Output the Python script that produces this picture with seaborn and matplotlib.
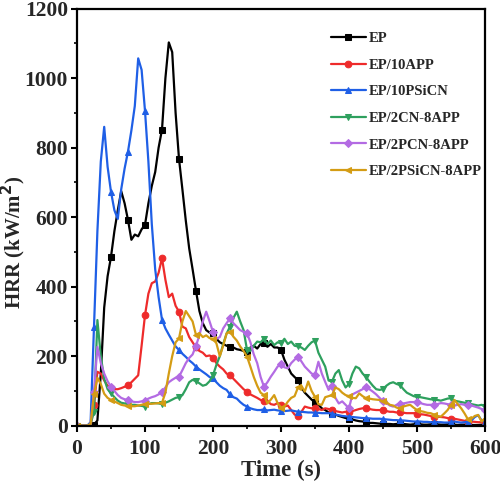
import numpy as np
import pandas as pd
import matplotlib
matplotlib.use("Agg")
import matplotlib.pyplot as plt
from matplotlib.ticker import MultipleLocator
import seaborn as sns

# ── DATA (HRR, kW/m2, read every 5 s) ───────────────────────
time_s = list(range(0, 601, 5))

ep = [0, 0, 0, 0, 0, 3, 15, 150, 340, 430, 486, 560, 620, 675, 640, 592, 535, 550, 545, 565,
      578, 640, 690, 730, 800, 852, 1000, 1103, 1075, 900, 768, 680, 590, 510, 450, 388, 330, 295, 275, 268,
      266, 250, 240, 235, 230, 227, 225, 220, 218, 215, 213, 225, 230, 222, 235, 238, 227, 235, 225, 225,
      218, 190, 170, 150, 140, 131, 110, 95, 85, 75, 68, 60, 50, 45, 38, 35, 32, 28, 25, 22,
      20, 18, 15, 13, 12, 10, 8, 8, 7, 6, 6, 5, 5, 4, 5, 6, 5, 4, 3, 4,
      5, 4, 3, 3, 4, 5, 4, 3, 3, 4, 3, 3, 2, 3, 3, 2, 2, 2, 2, 3, 2]

app10 = [0, 0, 0, 0, 0, 60, 155, 150, 130, 115, 108, 105, 105, 108, 112, 117, 125, 135, 145, 230,
         318, 380, 410, 415, 440, 482, 420, 370, 380, 345, 328, 285, 280, 255, 240, 225, 215, 210, 200, 202,
         196, 180, 170, 162, 150, 145, 135, 125, 115, 105, 98, 90, 85, 80, 74, 70, 72, 62, 60, 65,
         60, 55, 58, 45, 32, 28, 40, 55, 52, 50, 50, 48, 45, 50, 48, 45, 42, 40, 38, 40,
         40, 42, 45, 48, 50, 51, 48, 46, 45, 45, 44, 42, 40, 40, 38, 38, 37, 36, 36, 36,
         35, 33, 32, 30, 28, 26, 26, 25, 24, 22, 20, 20, 18, 16, 14, 12, 12, 11, 10, 10, 10]

psicn10 = [0, 0, 0, 0, 10, 285, 560, 760, 860, 745, 673, 620, 595, 680, 740, 789, 850, 920, 1057, 1024,
           906, 760, 580, 450, 370, 305, 280, 262, 245, 228, 218, 207, 198, 188, 180, 170, 162, 155, 148, 140,
           136, 125, 115, 108, 103, 90, 82, 78, 68, 60, 55, 50, 47, 45, 45, 47, 44, 45, 46, 44,
           43, 42, 43, 44, 42, 40, 40, 39, 38, 38, 37, 37, 36, 36, 36, 35, 32, 30, 28, 27,
           26, 25, 24, 23, 22, 22, 21, 20, 20, 20, 19, 18, 17, 16, 16, 15, 15, 14, 13, 12,
           12, 12, 11, 11, 10, 10, 10, 10, 9, 9, 10, 12, 10, 9, 10, 12, 15, 25, 30, 15, 12]

cn2_app8 = [0, 0, 0, 0, 5, 40, 304, 200, 135, 105, 93, 82, 72, 66, 64, 62, 60, 60, 58, 57,
            55, 62, 65, 65, 64, 62, 66, 70, 75, 80, 82, 88, 105, 125, 132, 128, 122, 115, 118, 128,
            145, 175, 200, 235, 265, 285, 310, 328, 300, 275, 218, 215, 230, 242, 240, 250, 235, 245, 232, 240,
            237, 250, 235, 242, 230, 228, 225, 218, 230, 240, 245, 210, 190, 170, 130, 127, 150, 160, 130, 110,
            120, 150, 170, 165, 150, 140, 127, 115, 105, 103, 105, 115, 122, 125, 120, 117, 105, 95, 90, 85,
            83, 82, 80, 78, 76, 75, 74, 72, 75, 78, 79, 72, 70, 68, 66, 64, 62, 60, 58, 60, 55]

pcn2_app8 = [0, 0, 0, 0, 5, 98, 227, 180, 150, 128, 112, 100, 88, 80, 76, 74, 70, 68, 68, 70,
             72, 78, 82, 85, 90, 98, 110, 125, 132, 138, 141, 160, 180, 195, 205, 230, 260, 300, 328, 300,
             270, 250, 255, 280, 295, 309, 295, 285, 275, 270, 266, 240, 205, 180, 140, 112, 125, 141, 155, 170,
             178, 168, 165, 180, 190, 199, 185, 170, 160, 150, 146, 184, 150, 126, 103, 115, 80, 64, 70, 60,
             50, 90, 95, 100, 105, 112, 105, 98, 90, 80, 70, 65, 58, 55, 60, 62, 64, 66, 68, 68,
             69, 65, 62, 60, 60, 60, 62, 65, 64, 62, 60, 58, 60, 62, 60, 60, 58, 55, 52, 48, 45]

psicn2_app8 = [0, 0, 0, 0, 5, 90, 138, 120, 92, 80, 74, 70, 65, 60, 58, 57, 56, 56, 58, 60,
               62, 63, 63, 64, 65, 66, 95, 150, 200, 240, 251, 300, 330, 315, 300, 261, 266, 255, 260, 252,
               250, 237, 200, 230, 266, 271, 256, 245, 228, 215, 199, 170, 140, 115, 95, 88, 64, 75, 88, 65,
               52, 55, 69, 80, 85, 110, 115, 98, 127, 100, 83, 62, 60, 82, 85, 88, 110, 105, 95, 88,
               85, 80, 79, 93, 85, 79, 78, 76, 75, 74, 70, 68, 60, 58, 52, 50, 55, 58, 60, 52,
               45, 42, 40, 37, 36, 32, 28, 26, 35, 45, 60, 74, 62, 50, 35, 18, 20, 28, 31, 12, 20]

names = ['EP', 'EP/10APP', 'EP/10PSiCN', 'EP/2CN-8APP', 'EP/2PCN-8APP', 'EP/2PSiCN-8APP']
series = [ep, app10, psicn10, cn2_app8, pcn2_app8, psicn2_app8]
colors = ['#000000', '#ee2b2b', '#1f5fe6', '#2ea05e', '#b36be3', '#d49c14']
markers = ['s', 'o', '^', 'v', 'D', '<']

# ── STYLE ────────────────────────────────────────────────────
sns.set_style("ticks")
plt.rcParams['font.family'] = ['Liberation Serif', 'DejaVu Serif']
plt.rcParams['font.weight'] = 'bold'
plt.rcParams['axes.labelweight'] = 'bold'

fig = plt.figure(figsize=(5.0, 4.97), dpi=100)
ax = fig.add_axes([0.154, 0.1435, 0.816, 0.839])

for name, vals, c, m in zip(names, series, colors, markers):
    sns.lineplot(x=time_s, y=vals, ax=ax, color=c, marker=m, markevery=5,
                 markersize=4.8 if m != 'D' else 4.2, mec=c, mfc=c, linewidth=1.6,
                 label=name)

ax.set_xlim(0, 600)
ax.set_ylim(0, 1200)
ax.xaxis.set_major_locator(MultipleLocator(100))
ax.xaxis.set_minor_locator(MultipleLocator(50))
ax.yaxis.set_major_locator(MultipleLocator(200))
ax.yaxis.set_minor_locator(MultipleLocator(100))
ax.tick_params(axis='both', which='major', direction='out', length=4.5, width=1.5,
               labelsize=15.5, color='black')
ax.tick_params(axis='both', which='minor', direction='out', length=2.5, width=1.2, color='black')
ax.tick_params(axis='y', which='major', pad=2)
ax.tick_params(axis='x', which='major', pad=5)
for lab in ax.get_xticklabels() + ax.get_yticklabels():
    lab.set_fontweight('bold')
for sp in ax.spines.values():
    sp.set_visible(True)
    sp.set_linewidth(1.6)
    sp.set_color('black')

ax.set_xlabel('Time (s)', fontsize=16.5, fontweight='bold')
ax.set_ylabel('HRR (kW/m$^\\mathbf{2}$)', fontsize=15, fontweight='bold')
ax.xaxis.set_label_coords(0.5, -0.082)
ax.yaxis.set_label_coords(-0.12, 0.44)

leg = ax.legend(loc='upper left', bbox_to_anchor=(0.59, 0.976), frameon=False,
                fontsize=10.5, handlelength=2.4, handletextpad=0.2, labelspacing=0.92,
                borderpad=0.4)
for t in leg.get_texts():
    t.set_fontweight('bold')

fig.savefig('out.png', dpi=100)
